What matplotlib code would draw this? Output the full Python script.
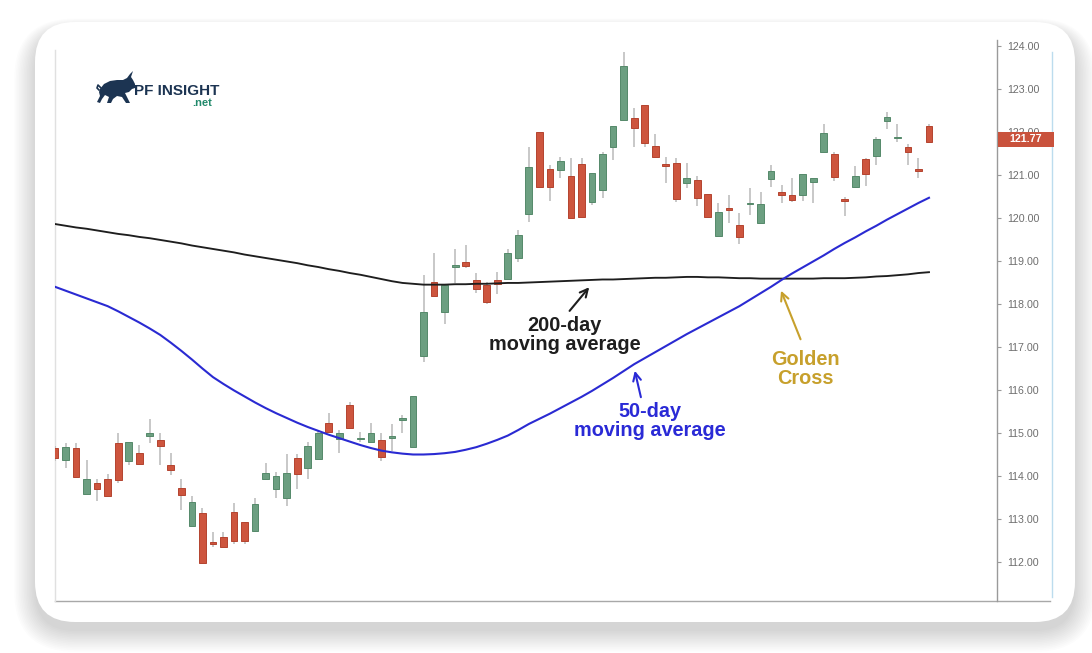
import matplotlib
matplotlib.use('Agg')
import matplotlib.pyplot as plt
from matplotlib.patches import FancyBboxPatch, Polygon, Rectangle
from matplotlib.lines import Line2D
from matplotlib.transforms import blended_transform_factory
import numpy as np

plt.rcParams['font.family'] = ['Liberation Sans', 'DejaVu Sans']

# ---------------- data ----------------
opens = [114.64, 114.37, 114.66, 113.59, 113.84, 113.94, 114.76, 114.35, 114.54, 114.93,
         114.83, 114.25, 113.73, 112.84, 113.15, 112.47, 112.59, 113.17, 112.94, 112.73,
         113.93, 113.69, 113.48, 114.43, 114.18, 114.39, 115.24, 114.85, 115.65, 114.85,
         114.80, 114.83, 114.89, 115.30, 114.68, 116.79, 118.52, 117.82, 118.87, 118.97,
         118.56, 118.44, 118.56, 118.57, 119.06, 120.09, 122.01, 121.14, 121.12, 120.98,
         121.26, 120.38, 120.65, 121.64, 122.28, 122.33, 122.63, 121.67, 121.26, 121.27,
         120.81, 120.88, 120.56, 119.59, 120.22, 119.84, 120.32, 119.88, 120.91, 120.60,
         120.53, 120.53, 120.83, 121.54, 121.48, 120.44, 120.73, 121.37, 121.45, 122.26,
         121.85, 121.66, 121.15, 122.15]
highs = [114.70, 114.76, 114.76, 114.37, 113.92, 114.04, 115.01, 114.78, 114.72, 115.32,
         115.01, 114.54, 113.94, 113.53, 113.25, 112.70, 112.70, 113.38, 112.94, 113.48,
         114.31, 114.10, 114.51, 114.51, 114.80, 115.08, 115.47, 115.08, 115.73, 115.03,
         115.24, 115.01, 115.22, 115.42, 115.87, 118.67, 119.19, 118.44, 119.27, 119.37,
         118.71, 118.52, 118.75, 119.29, 119.72, 121.64, 122.01, 121.23, 121.43, 121.39,
         121.39, 121.04, 121.54, 122.15, 123.87, 122.55, 122.63, 121.95, 121.41, 121.39,
         121.27, 120.98, 120.56, 120.36, 120.53, 120.11, 120.70, 120.61, 121.23, 120.77,
         120.92, 121.02, 120.92, 122.18, 121.54, 120.50, 121.21, 121.40, 121.89, 122.47,
         122.18, 121.71, 121.39, 122.18]
lows = [114.35, 114.18, 113.98, 113.59, 113.42, 113.53, 113.84, 114.25, 114.25, 114.77,
        114.25, 114.02, 113.22, 112.84, 111.95, 112.35, 112.35, 112.43, 112.43, 112.70,
        113.93, 113.50, 113.30, 113.69, 113.92, 114.39, 115.03, 114.54, 115.11, 114.80,
        114.80, 114.35, 114.59, 114.99, 114.68, 116.66, 118.19, 117.53, 118.48, 118.83,
        118.25, 118.01, 118.23, 118.57, 118.98, 119.91, 120.69, 120.40, 120.92, 120.01,
        120.03, 120.30, 120.46, 121.35, 122.28, 121.66, 121.64, 121.41, 120.81, 120.38,
        120.69, 120.28, 119.99, 119.55, 119.89, 119.40, 120.07, 119.88, 120.73, 120.34,
        120.38, 120.40, 120.34, 121.54, 120.86, 120.05, 120.73, 120.75, 121.23, 122.08,
        121.77, 121.23, 120.92, 121.74]
closes = [114.41, 114.68, 113.98, 113.94, 113.69, 113.53, 113.90, 114.78, 114.28, 114.99,
          114.70, 114.14, 113.56, 113.40, 111.98, 112.42, 112.35, 112.49, 112.49, 113.35,
          114.08, 114.00, 114.08, 114.04, 114.70, 115.01, 115.03, 115.01, 115.11, 114.87,
          115.01, 114.45, 114.93, 115.34, 115.87, 117.82, 118.19, 118.44, 118.91, 118.88,
          118.35, 118.05, 118.46, 119.18, 119.60, 121.19, 120.73, 120.71, 121.33, 120.01,
          120.03, 121.04, 121.50, 122.15, 123.54, 122.10, 121.74, 121.41, 121.22, 120.45,
          120.94, 120.46, 120.03, 120.15, 120.19, 119.55, 120.36, 120.32, 121.10, 120.53,
          120.42, 121.02, 120.92, 121.97, 120.96, 120.39, 120.98, 121.02, 121.84, 122.36,
          121.89, 121.54, 121.09, 121.77]
ma50 = [118.40, 118.31, 118.22, 118.13, 118.04, 117.95, 117.83, 117.70, 117.57, 117.43,
        117.28, 117.10, 116.91, 116.71, 116.50, 116.30, 116.14, 115.99, 115.85, 115.71,
        115.58, 115.46, 115.35, 115.24, 115.14, 115.05, 114.96, 114.88, 114.80, 114.72,
        114.65, 114.59, 114.55, 114.52, 114.50, 114.50, 114.51, 114.53, 114.56, 114.61,
        114.67, 114.75, 114.84, 114.94, 115.07, 115.21, 115.33, 115.45, 115.58, 115.71,
        115.84, 115.98, 116.13, 116.28, 116.44, 116.60, 116.74, 116.88, 117.02, 117.16,
        117.30, 117.43, 117.56, 117.69, 117.82, 117.95, 118.10, 118.25, 118.40, 118.56,
        118.71, 118.85, 118.99, 119.13, 119.28, 119.42, 119.55, 119.69, 119.82, 119.96,
        120.09, 120.22, 120.35, 120.47]
ma200 = [119.86, 119.82, 119.78, 119.75, 119.71, 119.67, 119.63, 119.60, 119.56, 119.53,
         119.49, 119.45, 119.41, 119.36, 119.32, 119.28, 119.24, 119.20, 119.15, 119.11,
         119.07, 119.03, 118.99, 118.95, 118.90, 118.86, 118.81, 118.77, 118.72, 118.68,
         118.63, 118.58, 118.53, 118.49, 118.47, 118.45, 118.45, 118.45, 118.46, 118.46,
         118.47, 118.47, 118.48, 118.49, 118.49, 118.50, 118.51, 118.52, 118.53, 118.54,
         118.55, 118.56, 118.57, 118.57, 118.58, 118.59, 118.60, 118.61, 118.61, 118.62,
         118.63, 118.63, 118.62, 118.62, 118.61, 118.60, 118.60, 118.59, 118.59, 118.59,
         118.59, 118.59, 118.59, 118.60, 118.60, 118.60, 118.61, 118.62, 118.64, 118.65,
         118.67, 118.69, 118.72, 118.74]
price_ticks = [112, 113, 114, 115, 116, 117, 118, 119, 120, 121, 122, 123, 124]
label_200 = "200-day\nmoving average"
label_50 = "50-day\nmoving average"
label_gc = "Golden\nCross"

# ---------------- figure ----------------
W, H = 1092, 653
fig = plt.figure(figsize=(W / 100, H / 100), dpi=100, facecolor='white')

bg = fig.add_axes([0, 0, 1, 1], zorder=0)
bg.set_xlim(0, W)
bg.set_ylim(H, 0)
bg.axis('off')

# card shadow (heavier below)
for k in range(14):
    g = k * 1.6
    bg.add_patch(FancyBboxPatch((35 - g, 22 - g * 0.6 + 9), 1040 + 2 * g, 600 + 1.6 * g,
                                boxstyle=f"round,pad=0,rounding_size={40 + g}",
                                fc='black', ec='none', alpha=0.010))
# card
bg.add_patch(FancyBboxPatch((35, 22), 1040, 600, boxstyle="round,pad=0,rounding_size=40",
                            fc='white', ec='none'))
# screenshot edges
bg.add_line(Line2D([55, 1050], [601, 601], color='#a8a8a8', lw=1.0))
bg.add_line(Line2D([55, 55], [50, 601], color='#e0e0e0', lw=1.0))
bg.add_line(Line2D([1052, 1052], [52, 597], color='#bcdcee', lw=1.0))

# logo
bull = [(100, 89), (104, 84), (110, 81), (117, 80), (123, 80), (127, 78), (130, 74), (133, 71),
        (131, 77), (133, 80), (135, 84), (135, 88), (132, 89), (129, 92), (125, 93), (127, 97),
        (130, 103), (126, 103), (122, 97), (117, 96), (113, 99), (111, 103), (107, 103),
        (109, 97), (105, 95), (102, 99), (100, 103), (97, 102), (100, 96), (99, 92)]
bg.add_patch(Polygon(bull, closed=True, fc='#1c3452', ec='none'))
bg.add_line(Line2D([101, 98, 97, 99], [88, 85, 88, 90], color='#1c3452', lw=1.2))
bg.text(134, 95, "PF INSIGHT", fontsize=11.0, fontweight='bold', color='#1c3452',
        ha='left', va='baseline')
bg.text(212, 106, ".net", fontsize=8.0, fontweight='bold', color='#21896b',
        ha='right', va='baseline')

# ---------------- main chart ----------------
L, R, T, B = 55, 997, 40, 601
ax = fig.add_axes([L / W, 1 - B / H, (R - L) / W, (B - T) / H], zorder=1)
ax.patch.set_alpha(0)

n = len(closes)
x = np.arange(n)
o = np.array(opens); c = np.array(closes)
hi = np.array(highs); lo = np.array(lows)
up = c >= o
fill = np.where(up, '#6c9f81', '#cd553e')
edge = np.where(up, '#55896a', '#b4432f')

ax.vlines(x, lo, hi, color='#b9b9b9', lw=1.1, zorder=2)
ax.bar(x, np.maximum(np.abs(c - o), 0.04), bottom=np.minimum(o, c), width=0.64,
       color=fill, edgecolor=edge, linewidth=0.7, zorder=3)

ax.plot(x, ma200, color='#1e1e1e', lw=1.35, zorder=4)
ax.plot(x, ma50, color='#2a2ad2', lw=1.5, zorder=4)

ax.set_xlim(0, (R - L) / 10.53)
ax.set_ylim(124 - (B - 46) / 43, 124 + (46 - T) / 43)

for s in ['left', 'top', 'bottom']:
    ax.spines[s].set_visible(False)
ax.spines['right'].set_color('#9a9a9a')
ax.spines['right'].set_linewidth(1.0)
ax.set_xticks([])
ax.yaxis.tick_right()
ax.set_yticks(price_ticks)
ax.set_yticklabels([f"{v:.2f}" for v in price_ticks])
ax.tick_params(axis='y', direction='out', length=3, width=0.8, color='#9a9a9a',
               labelcolor='#6e6e6e', labelsize=7.7, pad=4)

# annotations
ax.text(48.4, 117.28, label_200, fontsize=14.3, fontweight='bold', color='#1e1e1e',
        ha='center', va='center', linespacing=1.0, zorder=5)
ax.annotate('', xy=(50.9, 118.44), xytext=(48.7, 117.79),
            arrowprops=dict(arrowstyle='->', lw=1.5, color='#1e1e1e', mutation_scale=14),
            zorder=5)
ax.text(56.5, 115.29, label_50, fontsize=14.3, fontweight='bold', color='#2a2ad6',
        ha='center', va='center', linespacing=1.0, zorder=5)
ax.annotate('', xy=(55.0, 116.51), xytext=(55.7, 115.77),
            arrowprops=dict(arrowstyle='->', lw=1.5, color='#2a2ad6', mutation_scale=14),
            zorder=5)
ax.text(71.3, 116.48, label_gc, fontsize=14.3, fontweight='bold', color='#c7a02c',
        ha='center', va='center', linespacing=1.0, zorder=5)
ax.annotate('', xy=(68.85, 118.37), xytext=(70.9, 117.12),
            arrowprops=dict(arrowstyle='->', lw=1.5, color='#c7a02c', mutation_scale=14),
            zorder=5)

# last price tag (covers the 122.00 label as in the source)
tr = blended_transform_factory(ax.transAxes, ax.transData)
last = closes[-1]
tag_w = 56 / (R - L)
ax.add_patch(Rectangle((1.001, last - 0.12), tag_w, 0.36, transform=tr, fc='#c9523c',
                       ec='none', clip_on=False, zorder=10))
ax.text(1.001 + tag_w / 2, last + 0.06, f"{last:.2f}", transform=tr, ha='center',
        va='center', color='white', fontsize=7.7, fontweight='bold', clip_on=False,
        zorder=11)

fig.savefig('out.png', dpi=100, facecolor='white')
